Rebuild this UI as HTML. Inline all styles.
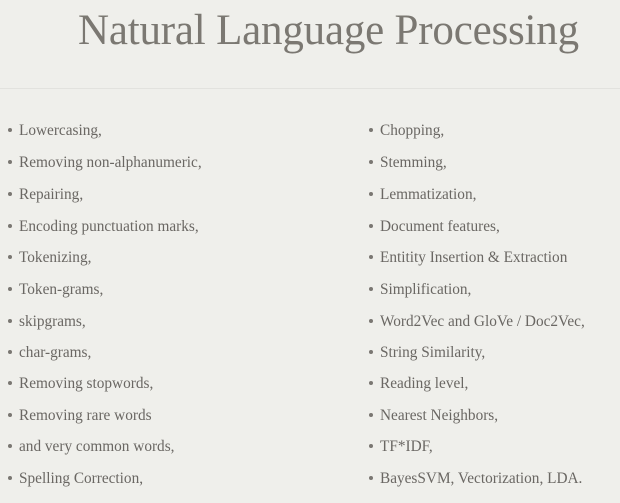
<!DOCTYPE html>
<html><head><meta charset="utf-8"><style>
html,body{margin:0;padding:0}
body{width:620px;height:503px;background:#efefeb;position:relative;overflow:hidden;font-family:"Liberation Serif",serif;color:#6a6763}
.t{position:absolute;left:78px;top:6px;font-size:43px;color:#7b7872;white-space:nowrap;letter-spacing:-0.2px}
.line{position:absolute;left:0;top:88px;width:620px;height:1px;background:#e2e2de}
.i{position:absolute;font-size:15.3px;white-space:nowrap;line-height:17px;margin-top:1px}
.i:before{content:"";position:absolute;left:-11px;top:6px;width:4px;height:4px;border-radius:2px;background:#7a7772}
</style></head><body>
<div class="t">Natural Language Processing</div>
<div class="line"></div>
<div class="i" style="left:19px;top:121px">Lowercasing,</div>
<div class="i" style="left:19px;top:153px">Removing non-alphanumeric,</div>
<div class="i" style="left:19px;top:185px">Repairing,</div>
<div class="i" style="left:19px;top:217px">Encoding punctuation marks,</div>
<div class="i" style="left:19px;top:248px">Tokenizing,</div>
<div class="i" style="left:19px;top:280px">Token-grams,</div>
<div class="i" style="left:19px;top:312px">skipgrams,</div>
<div class="i" style="left:19px;top:343px">char-grams,</div>
<div class="i" style="left:19px;top:374px">Removing stopwords,</div>
<div class="i" style="left:19px;top:406px">Removing rare words</div>
<div class="i" style="left:19px;top:437px">and very common words,</div>
<div class="i" style="left:19px;top:469px">Spelling Correction,</div>
<div class="i" style="left:380px;top:121px">Chopping,</div>
<div class="i" style="left:380px;top:153px">Stemming,</div>
<div class="i" style="left:380px;top:185px">Lemmatization,</div>
<div class="i" style="left:380px;top:217px">Document features,</div>
<div class="i" style="left:380px;top:248px">Entitity Insertion &amp; Extraction</div>
<div class="i" style="left:380px;top:280px">Simplification,</div>
<div class="i" style="left:380px;top:312px">Word2Vec and GloVe / Doc2Vec,</div>
<div class="i" style="left:380px;top:343px">String Similarity,</div>
<div class="i" style="left:380px;top:374px">Reading level,</div>
<div class="i" style="left:380px;top:406px">Nearest Neighbors,</div>
<div class="i" style="left:380px;top:437px">TF*IDF,</div>
<div class="i" style="left:380px;top:469px">BayesSVM, Vectorization, LDA.</div>
</body></html>
